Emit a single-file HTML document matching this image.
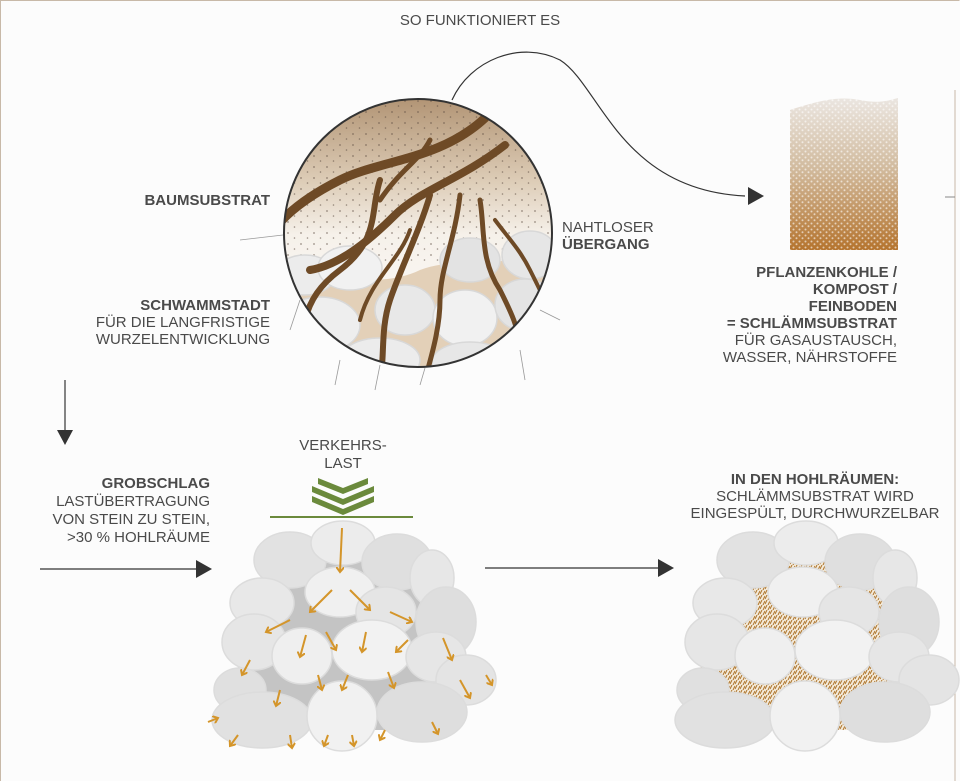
<!DOCTYPE html>
<html><head><meta charset="utf-8"><style>
html,body{margin:0;padding:0;background:#fff}
svg{display:block}
text{font-family:"Liberation Sans",sans-serif;fill:#4a4a4a;font-size:15px}
.b{font-weight:bold}
</style></head><body>
<svg width="960" height="781" viewBox="0 0 960 781" xmlns="http://www.w3.org/2000/svg">
<defs>
<linearGradient id="soil" x1="0" y1="0" x2="0" y2="1">
<stop offset="0" stop-color="#b09272"/><stop offset="0.3" stop-color="#dccbb5"/><stop offset="0.5" stop-color="#f6f1ea"/><stop offset="1" stop-color="#fff"/>
</linearGradient>
<linearGradient id="sub" x1="0" y1="0" x2="0" y2="1">
<stop offset="0" stop-color="#ebe6e1"/><stop offset="0.45" stop-color="#d2bca0"/><stop offset="1" stop-color="#b5742e"/>
</linearGradient>
<pattern id="dots" width="13" height="11" patternUnits="userSpaceOnUse">
<circle cx="2" cy="2" r="0.9" fill="#5a4a40"/><circle cx="8.5" cy="7" r="0.8" fill="#5a4a40"/>
</pattern>
<pattern id="speck" width="6" height="6" patternUnits="userSpaceOnUse">
<circle cx="1.5" cy="1.5" r="1" fill="#fff"/><circle cx="4.5" cy="4.2" r="1" fill="#fff"/>
</pattern>
<pattern id="hatch" width="5" height="5" patternUnits="userSpaceOnUse">
<rect width="5" height="5" fill="#f4ead8"/>
<path d="M0 4 L2 0 M3 5 L5 1" stroke="#b07a35" stroke-width="1.1"/>
</pattern>
<marker id="oa" markerWidth="8" markerHeight="8" refX="5" refY="4" orient="auto" markerUnits="userSpaceOnUse">
<path d="M0 0 L5 4 L0 8" fill="none" stroke="#d4952a" stroke-width="2"/>
</marker>
<clipPath id="cc"><circle cx="418" cy="233" r="134"/></clipPath>
<g id="stones" stroke="#dcdcdc" stroke-width="1.5">
<ellipse cx="290" cy="560" rx="36" ry="28" fill="#e2e2e2"/>
<ellipse cx="343" cy="543" rx="32" ry="22" fill="#ececec"/>
<ellipse cx="397" cy="562" rx="35" ry="28" fill="#dfdfdf"/>
<ellipse cx="432" cy="578" rx="22" ry="28" fill="#e7e7e7"/>
<ellipse cx="262" cy="603" rx="32" ry="25" fill="#e8e8e8"/>
<ellipse cx="340" cy="592" rx="35" ry="25" fill="#f0f0f0"/>
<ellipse cx="386" cy="612" rx="30" ry="25" fill="#e5e5e5"/>
<ellipse cx="446" cy="622" rx="30" ry="35" fill="#dedede"/>
<ellipse cx="254" cy="642" rx="32" ry="28" fill="#e6e6e6"/>
<ellipse cx="302" cy="656" rx="30" ry="28" fill="#efefef"/>
<ellipse cx="372" cy="650" rx="40" ry="30" fill="#f2f2f2"/>
<ellipse cx="436" cy="657" rx="30" ry="25" fill="#e6e6e6"/>
<ellipse cx="240" cy="690" rx="26" ry="22" fill="#e0e0e0"/>
<ellipse cx="466" cy="680" rx="30" ry="25" fill="#e4e4e4"/>
<ellipse cx="262" cy="720" rx="50" ry="28" fill="#e1e1e1"/>
<ellipse cx="342" cy="716" rx="35" ry="35" fill="#f1f1f1"/>
<ellipse cx="422" cy="712" rx="45" ry="30" fill="#dedede"/>
</g>
</defs>
<rect x="0" y="0" width="960" height="781" fill="#fcfcfc"/>
<path d="M0.5 781 V0.5 H959.5" fill="none" stroke="#c8b9a8" stroke-width="1"/>
<line x1="955" y1="90" x2="955" y2="781" stroke="#c8b9a8"/>
<line x1="945" y1="197" x2="955" y2="197" stroke="#888"/>

<text x="480" y="25" text-anchor="middle" font-size="15">SO FUNKTIONIERT ES</text>

<path d="M452 100 C470 60 520 40 560 60 C600 85 620 190 745 196" fill="none" stroke="#333" stroke-width="1.2"/>
<path d="M748 187 L764 196 L748 205 Z" fill="#333"/>

<g clip-path="url(#cc)">
<rect x="280" y="95" width="280" height="280" fill="url(#soil)"/>
<rect x="280" y="95" width="280" height="170" fill="url(#dots)" opacity="0.6"/>
<path d="M280 300 C330 270 380 290 420 270 C460 255 500 270 560 250 V380 H280 Z" fill="#e3d0b8"/>
<g stroke="#d8d8d8" stroke-width="1.5">
<ellipse cx="305" cy="275" rx="30" ry="20" fill="#ececec"/>
<ellipse cx="350" cy="268" rx="32" ry="22" fill="#f1f1f1"/>
<ellipse cx="470" cy="260" rx="30" ry="22" fill="#e3e3e3"/>
<ellipse cx="530" cy="255" rx="28" ry="24" fill="#e6e6e6"/>
<ellipse cx="320" cy="325" rx="40" ry="28" fill="#eeeeee"/>
<ellipse cx="405" cy="310" rx="30" ry="25" fill="#e8e8e8"/>
<ellipse cx="465" cy="318" rx="32" ry="28" fill="#f1f1f1"/>
<ellipse cx="525" cy="305" rx="30" ry="26" fill="#e4e4e4"/>
<ellipse cx="380" cy="360" rx="40" ry="22" fill="#ececec"/>
<ellipse cx="470" cy="362" rx="38" ry="20" fill="#e7e7e7"/>
</g>
<g fill="none" stroke="#6e4a26" stroke-linecap="round">
<path d="M485 118 C440 160 380 160 340 180 C300 200 280 220 270 235" stroke-width="9"/>
<path d="M505 145 C460 180 420 190 395 215 C370 240 340 265 310 270" stroke-width="8"/>
<path d="M380 180 C370 210 380 240 340 270 C320 285 310 300 305 320" stroke-width="6"/>
<path d="M430 195 C420 230 400 270 390 300 C380 330 385 360 380 380" stroke-width="6"/>
<path d="M460 195 C455 240 440 270 440 300 C440 330 430 360 425 380" stroke-width="5"/>
<path d="M480 200 C485 230 480 260 500 290 C510 310 520 330 520 350" stroke-width="5"/>
<path d="M430 140 C420 160 400 170 380 200" stroke-width="5"/>
<path d="M495 220 C510 240 520 250 530 270 C540 290 545 300 548 310" stroke-width="4"/>
<path d="M410 230 C400 260 370 280 360 320" stroke-width="4"/>
</g>
</g>
<circle cx="418" cy="233" r="134" fill="none" stroke="#333" stroke-width="2"/>
<g fill="none" stroke="#999" stroke-width="0.8">
<path d="M283 235 L240 240"/><path d="M300 300 L290 330"/><path d="M380 365 L375 390"/><path d="M425 368 L420 385"/><path d="M520 350 L525 380"/><path d="M540 310 L560 320"/><path d="M340 360 L335 385"/>
</g>

<text x="270" y="205" text-anchor="end" class="b">BAUMSUBSTRAT</text>
<text x="562" y="232">NAHTLOSER</text>
<text x="562" y="249" class="b">ÜBERGANG</text>
<text x="270" y="310" text-anchor="end" class="b">SCHWAMMSTADT</text>
<text x="270" y="327" text-anchor="end">FÜR DIE LANGFRISTIGE</text>
<text x="270" y="344" text-anchor="end">WURZELENTWICKLUNG</text>

<path d="M790 110 C820 100 840 96 860 100 C880 104 890 100 898 98 V250 H790 Z" fill="url(#sub)"/>
<path d="M790 110 C820 100 840 96 860 100 C880 104 890 100 898 98 V250 H790 Z" fill="url(#speck)" opacity="0.6"/>
<text x="897" y="277" text-anchor="end" class="b">PFLANZENKOHLE /</text>
<text x="897" y="294" text-anchor="end" class="b">KOMPOST /</text>
<text x="897" y="311" text-anchor="end" class="b">FEINBODEN</text>
<text x="897" y="328" text-anchor="end" class="b">= SCHLÄMMSUBSTRAT</text>
<text x="897" y="345" text-anchor="end">FÜR GASAUSTAUSCH,</text>
<text x="897" y="362" text-anchor="end">WASSER, NÄHRSTOFFE</text>

<line x1="65" y1="380" x2="65" y2="432" stroke="#333" stroke-width="1.2"/>
<path d="M57 430 L73 430 L65 445 Z" fill="#333"/>

<text x="210" y="488" text-anchor="end" class="b">GROBSCHLAG</text>
<text x="210" y="506" text-anchor="end">LASTÜBERTRAGUNG</text>
<text x="210" y="524" text-anchor="end">VON STEIN ZU STEIN,</text>
<text x="210" y="542" text-anchor="end">&gt;30 % HOHLRÄUME</text>

<line x1="40" y1="569" x2="198" y2="569" stroke="#333" stroke-width="1.2"/>
<path d="M196 560 L212 569 L196 578 Z" fill="#333"/>
<line x1="485" y1="568" x2="660" y2="568" stroke="#333" stroke-width="1.2"/>
<path d="M658 559 L674 568 L658 577 Z" fill="#333"/>

<text x="343" y="450" text-anchor="middle">VERKEHRS-</text>
<text x="343" y="468" text-anchor="middle">LAST</text>
<g fill="#6b8a3c">
<path d="M318 478 L343 488 L368 478 L368 484 L343 494 L318 484 Z"/>
<path d="M312 486 L343 499 L374 486 L374 492 L343 505 L312 492 Z"/>
<path d="M312 496 L343 509 L374 496 L374 502 L343 515 L312 502 Z"/>
</g>
<line x1="270" y1="517" x2="413" y2="517" stroke="#6b8a3c" stroke-width="2"/>

<path d="M270 570 L340 550 L430 575 L455 640 L460 700 L420 730 L250 730 L235 690 L245 610 Z" fill="#c4c4c4"/>
<use href="#stones"/>
<g stroke="#d4952a" stroke-width="2" fill="none" marker-end="url(#oa)">
<path d="M342 528 L340 572"/>
<path d="M332 590 L310 612"/><path d="M350 590 L370 610"/><path d="M390 612 L412 622"/>
<path d="M290 620 L266 632"/><path d="M306 635 L300 657"/><path d="M326 632 L336 650"/><path d="M366 632 L362 652"/><path d="M408 640 L396 652"/><path d="M443 638 L452 660"/>
<path d="M250 660 L242 675"/><path d="M318 675 L322 690"/><path d="M348 675 L342 690"/><path d="M388 672 L394 688"/><path d="M460 680 L470 698"/><path d="M486 675 L492 685"/>
<path d="M280 690 L276 706"/><path d="M208 722 L218 718"/><path d="M238 735 L230 746"/><path d="M290 735 L292 748"/><path d="M328 735 L324 746"/><path d="M352 735 L354 746"/><path d="M385 730 L380 740"/><path d="M432 722 L438 734"/>
</g>

<text x="815" y="484" text-anchor="middle" class="b">IN DEN HOHLRÄUMEN:</text>
<text x="815" y="501" text-anchor="middle">SCHLÄMMSUBSTRAT WIRD</text>
<text x="815" y="518" text-anchor="middle">EINGESPÜLT, DURCHWURZELBAR</text>

<path d="M733 570 L803 550 L893 575 L918 640 L923 700 L883 730 L713 730 L698 690 L708 610 Z" fill="url(#hatch)"/>
<use href="#stones" transform="translate(463,0)"/>
</svg>
</body></html>
